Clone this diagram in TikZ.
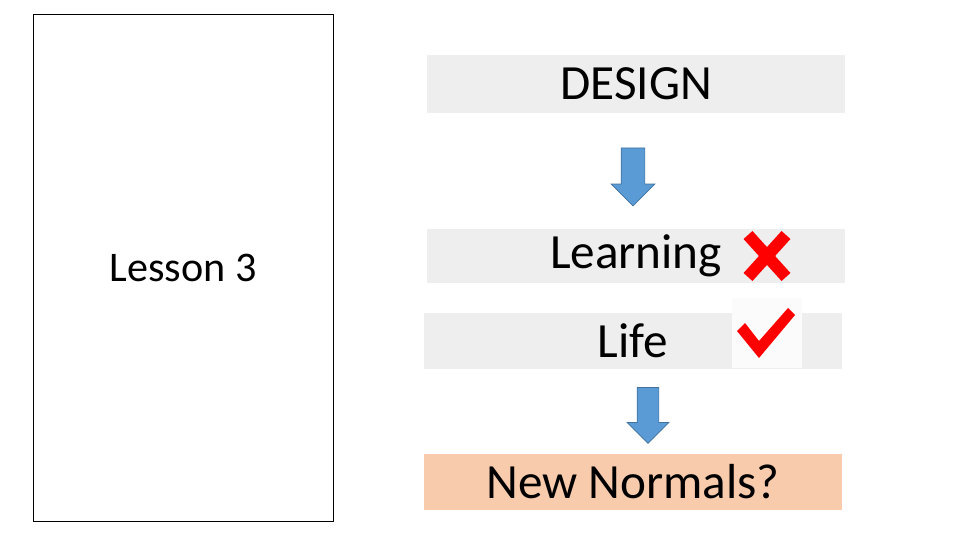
\documentclass[tikz,border=0pt]{standalone}
\usepackage{fontspec}
\setmainfont{Carlito}
\usetikzlibrary{positioning,shapes.arrows}
\definecolor{boxgray}{HTML}{EEEEEE}
\definecolor{boxpeach}{HTML}{F8CBAD}
\definecolor{arrowblue}{HTML}{5B9BD5}
\definecolor{arrowedge}{HTML}{41719C}
\begin{document}
\begin{tikzpicture}[x=0.02cm,y=-0.02cm,
        bar/.style={fill=boxgray, draw=none, minimum width=8.36cm, minimum height=1.14cm,
        inner sep=0pt, font=\fontsize{28}{32}\selectfont},
        down arrow/.style={single arrow, draw=arrowedge, fill=arrowblue, shape border rotate=270,
        minimum height=1.16cm, text width=0.46cm, single arrow head extend=0.2cm,
        single arrow head indent=0pt, inner sep=0pt}
        ]
        \useasboundingbox (0,0) rectangle (960,540);
        \node [draw, minimum width=6cm, minimum height=10.14cm, inner sep=0pt,
        font=\fontsize{24}{28}\selectfont] (lesson) at (183,268) {Lesson 3};

        \node [bar, minimum height=1.18cm] (design) at (636,84) {DESIGN};
        \node [down arrow] (a1) at (633,171) {};
        \node [bar, minimum height=1.1cm] (learning) at (636,256) {Learning\hspace{1.2cm}};
        \node [bar] (life) at (633,341) {Life};
        \node [down arrow, text width=0.42cm, minimum height=1.12cm] (a2) at (648,410) {};
        \node [bar, fill=boxpeach] (normals) at (633,482) {New Normals?};

        % cross and tick
        \draw [red, line width=2.4mm] (748,235) -- (786,277) (786,235) -- (748,277);
        \fill [white!97!gray] (732,298) rectangle (802,368);
        \fill [red] (737,331) -- (745,323) -- (759,341) -- (788,308) -- (795,315) -- (759,358) -- cycle;
     \end{tikzpicture}
\end{document}
